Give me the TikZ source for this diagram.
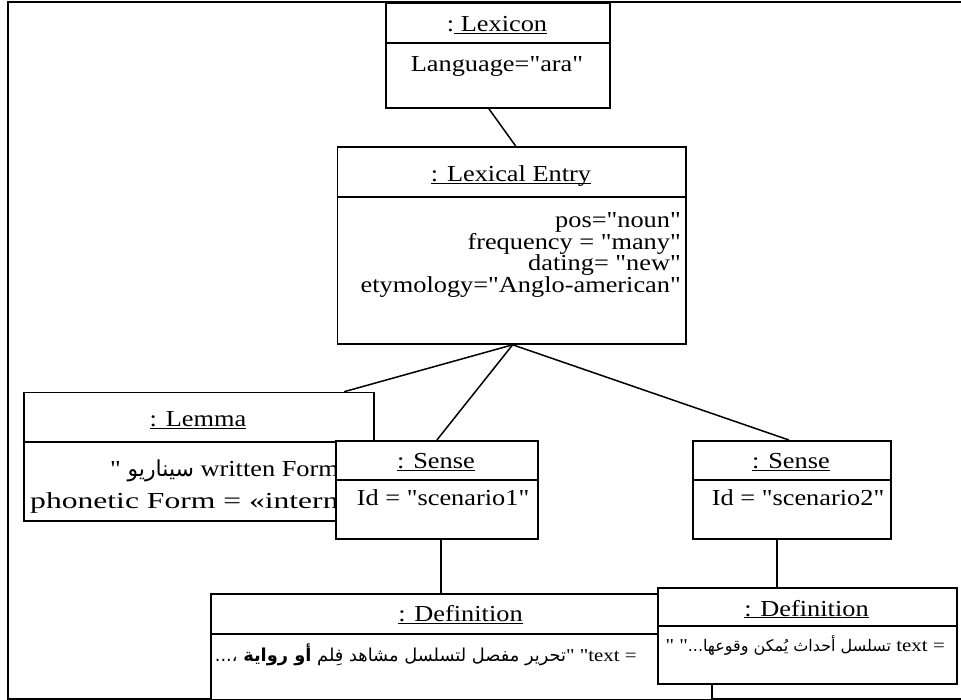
\documentclass[tikz,border=0pt]{standalone}
\usepackage{graphicx}
\usepackage{fontspec}
\setmainfont{Liberation Serif}[Ligatures=TeXOff, FakeStretch=1.15]
\newfontfamily\arabicfont[Script=Arabic]{DejaVu Sans}
\TeXXeTstate=1
\newcommand\ulbox[1]{\underline{\smash{#1}}}
\newcommand\bigfs{\fontsize{22.9}{21.5}\selectfont\lineskiplimit=-30pt\lineskip=0pt}
\begin{document}
\begin{tikzpicture}[x=1pt,y=-1pt,
  box/.style={draw, line width=1.8pt, fill=white, rectangle, inner sep=0pt, anchor=north west},
  sep/.style={line width=1.8pt},
  link/.style={line width=1.5pt},
  frame/.style={line width=2pt},
  big/.style={font=\bigfs, inner sep=0pt, anchor=base},
  small/.style={font=\fontsize{18.2}{21}\selectfont, inner sep=0pt, anchor=base east}]
\useasboundingbox (0,0) rectangle (961,700);

% outer frame, open on the right
\draw[frame] (961,1.7) -- (8,1.7) -- (8,699) -- (961,699);

% lexicon and lexical entry
\node[box, minimum width=224pt, minimum height=105pt] (lexicon) at (385,2) {};
\node[box, minimum width=348.5pt, minimum height=197pt] (entry) at (336.5,146) {};
\draw[sep] ([yshift=-41.3pt]lexicon.north west) -- ([yshift=-41.3pt]lexicon.north east);
\draw[sep] ([yshift=-51.3pt]entry.north west) -- ([yshift=-51.3pt]entry.north east);

\node[big] (lexT) at (497,31.7) {:\ulbox{~Lexicon}};
\node[big] (lexA) at (497,71.7) {Language="ara"};

\node[big] (entT) at (511,181.7) {\ulbox{: Lexical Entry}};
% anchored on the baseline of the last line
\node[big, anchor=base east, align=right] (entA) at (681,292.5)
  {pos="noun"\\ frequency = "many"\\ dating= "new"\\ etymology="Anglo-american"};

% lemma, partly hidden by the first sense box
\node[box, minimum width=350pt, minimum height=128.3pt] (lemma) at (22.7,391.7) {};
\draw[sep] ([yshift=-50.6pt]lemma.north west) -- ([yshift=-50.6pt]lemma.north east);
\node[big] (lemT) at (198,426.7) {\ulbox{: Lemma}};
\begin{scope}
  \clip (22.7,442) rectangle (335,520);
  \node[big, font=\fontsize{22.9}{32}\selectfont, anchor=base west, align=left] (lemA) at (30,508)
    {\hspace*{80pt}" {\arabicfont\fontsize{22}{22}\selectfont\beginR سيناريو\endR} written Form\\
     \scalebox{1.2}[1]{phonetic Form = «intern}};
\end{scope}

% senses
\node[box, minimum width=202pt, minimum height=98pt] (sense1) at (335,440) {};
\node[box, minimum width=198pt, minimum height=98pt] (sense2) at (692,440) {};
\draw[sep] ([yshift=-40pt]sense1.north west) -- ([yshift=-40pt]sense1.north east);
\draw[sep] ([yshift=-40pt]sense2.north west) -- ([yshift=-40pt]sense2.north east);
\node[big] (s1T) at (436,468.3) {\ulbox{: Sense}};
\node[big, anchor=base west] (s1A) at (356.7,505) {Id = "scenario1"};
\node[big] (s2T) at (791,468.3) {\ulbox{: Sense}};
\node[big, anchor=base west] (s2A) at (711.7,505) {Id = "scenario2"};

% definitions
\node[box, minimum width=501pt, minimum height=106pt] (def1) at (210,593) {};
\draw[sep] ([yshift=-41.3pt]def1.north west) -- ([yshift=-41.3pt]def1.north east);
\node[big] (d1T) at (460.5,621.7) {\ulbox{: Definition}};
\node[small] (d1A) at (637,661.7)
  {\beginR = \beginL text\endL" "{\arabicfont\fontsize{17.8}{17.8}\selectfont تحرير مفصل لتسلسل مشاهد فِلم {\bfseries أو رواية} ،...}\endR};

\node[box, minimum width=299pt, minimum height=96pt] (def2) at (657,587) {};
\draw[sep] ([yshift=-38.7pt]def2.north west) -- ([yshift=-38.7pt]def2.north east);
\node[big] (d2T) at (806.5,616) {\ulbox{: Definition}};
\node[small] (d2A) at (945,651.7)
  {\beginR = \beginL text\endL{} {\arabicfont\fontsize{16}{16}\selectfont تسلسل أحداث يُمكن وقوعها...}" "\endR};

% links
\draw[link] ([xshift=-9pt]lexicon.south) -- ([xshift=4pt]entry.north);
\draw[link] ([xshift=1pt]entry.south) -- ([xshift=145.6pt]lemma.north);
\draw[link] ([xshift=1pt]entry.south) -- (sense1.north);
\draw[link] ([xshift=1pt]entry.south) -- ([xshift=-3pt]sense2.north);
\draw[link] ([xshift=4pt]sense1.south) -- ([xshift=-20.5pt]def1.north);
\draw[link] ([xshift=-15pt]sense2.south) -- ([xshift=-30.5pt]def2.north);
\end{tikzpicture}
\end{document}
